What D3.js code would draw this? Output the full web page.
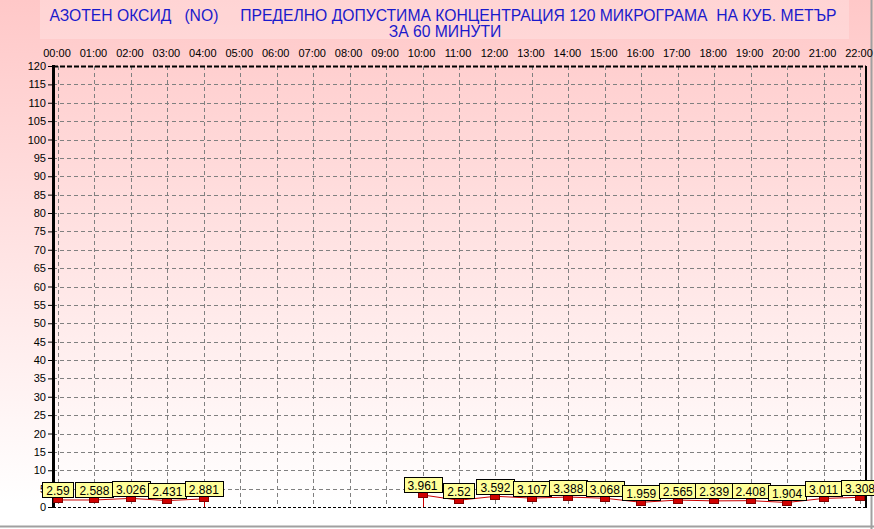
<!DOCTYPE html>
<html><head><meta charset="utf-8">
<script src="https://cdn.jsdelivr.net/npm/d3@7"></script>
<style>html,body{margin:0;padding:0;background:#fff;}svg{display:block;font-family:"Liberation Sans",Arial,sans-serif;}</style>
</head><body><div id="chart"></div>
<script>
const hours = ["00:00","01:00","02:00","03:00","04:00","05:00","06:00","07:00","08:00","09:00","10:00","11:00","12:00","13:00","14:00","15:00","16:00","17:00","18:00","19:00","20:00","21:00","22:00"];
const values = [2.59,2.588,3.026,2.431,2.881,null,null,null,null,null,3.961,2.52,3.592,3.107,3.388,3.068,1.959,2.565,2.339,2.408,1.904,3.011,3.308];
const yTicks = d3.range(0,121,5);
const titleLine1 = "АЗОТЕН ОКСИД   (NO)     ПРЕДЕЛНО ДОПУСТИМА КОНЦЕНТРАЦИЯ 120 МИКРОГРАМА  НА КУБ. МЕТЪР";
const titleLine2 = "ЗА 60 МИНУТИ";

const W=874,H=529;
const plot={left:53,right:866,top:66,bottom:507};
const svg=d3.select("#chart").append("svg").attr("width",W).attr("height",H);
const defs=svg.append("defs");
const g1=defs.append("linearGradient").attr("id","bg").attr("x1",0).attr("y1",0).attr("x2",0).attr("y2",1);
g1.append("stop").attr("offset","0%").attr("stop-color","#ffc8c8");
g1.append("stop").attr("offset","95%").attr("stop-color","#ffffff");
g1.append("stop").attr("offset","100%").attr("stop-color","#ffffff");
svg.append("rect").attr("width",W).attr("height",H).attr("fill","url(#bg)");
// outer grey border bottom/right
svg.append("line").attr("x1",0).attr("x2",W).attr("y1",526.5).attr("y2",526.5).attr("stroke","#a0a0a0").attr("stroke-width",2);
svg.append("line").attr("x1",871.5).attr("x2",871.5).attr("y1",0).attr("y2",H).attr("stroke","#a0a0a0").attr("stroke-width",2);
// title box
svg.append("rect").attr("x",40).attr("y",0).attr("width",809).attr("height",39).attr("fill","#ffffff").attr("opacity",0.22);

const x=d3.scaleLinear().domain([0,22]).range([58,860]);
const y=d3.scaleLinear().domain([0,120]).range([plot.bottom,plot.top]);

// title
svg.append("text").attr("x",443).attr("y",21).attr("text-anchor","middle").attr("fill","#1a1acc").attr("font-size",15.7).attr("xml:space","preserve").style("white-space","pre").text(titleLine1);
svg.append("text").attr("x",445).attr("y",37).attr("text-anchor","middle").attr("fill","#1a1acc").attr("font-size",15.7).text(titleLine2);

// grid
const grid=svg.append("g");
grid.selectAll("line.h").data(yTicks.filter(d=>d>0&&d<120)).join("line")
  .attr("x1",plot.left).attr("x2",plot.right).attr("y1",d=>Math.round(y(d))+0.5).attr("y2",d=>Math.round(y(d))+0.5)
  .attr("stroke","#808080").attr("stroke-dasharray","4,3");
grid.selectAll("line.v").data(hours).join("line")
  .attr("x1",(d,i)=>Math.round(x(i))+0.5).attr("x2",(d,i)=>Math.round(x(i))+0.5).attr("y1",plot.top).attr("y2",plot.bottom)
  .attr("stroke","#808080").attr("stroke-dasharray","4,3");

// frame
svg.append("line").attr("x1",plot.left).attr("x2",plot.right).attr("y1",plot.top+0.5).attr("y2",plot.top+0.5).attr("stroke","#000").attr("stroke-width",2).attr("stroke-dasharray","5,2");
svg.append("line").attr("x1",plot.left).attr("x2",plot.right).attr("y1",plot.bottom+0.5).attr("y2",plot.bottom+0.5).attr("stroke","#000").attr("stroke-dasharray","3,2");
svg.append("line").attr("x1",plot.right).attr("x2",plot.right).attr("y1",plot.top).attr("y2",plot.bottom+1).attr("stroke","#000").attr("stroke-width",2);

// y axis
const yAxis=d3.axisLeft(y).tickValues(yTicks).tickSize(5).tickPadding(2).tickFormat(d3.format("d"));
const ya=svg.append("g").attr("transform",`translate(${plot.left},0)`).call(yAxis);
ya.select(".domain").remove();
ya.selectAll("text").attr("font-size",11).attr("font-family","Liberation Sans, Arial, sans-serif").attr("fill","#000");
ya.selectAll("line").attr("stroke","#000");
svg.append("line").attr("x1",plot.left+0.5).attr("x2",plot.left+0.5).attr("y1",plot.top-1).attr("y2",plot.bottom+1).attr("stroke","#000").attr("stroke-width",3);

// x axis (top)
const xa=svg.append("g").attr("transform",`translate(0,${plot.top})`)
  .call(d3.axisTop(x).tickValues(d3.range(hours.length)).tickFormat(i=>hours[i]).tickSize(0).tickPadding(9));
xa.select(".domain").remove();
xa.selectAll("text").attr("font-size",11).attr("font-family","Liberation Sans, Arial, sans-serif").attr("fill","#000").attr("dx",-1.5);

// line
const pts=values.map((v,i)=>({i,v}));
const line=d3.line().defined(d=>d.v!==null).x(d=>x(d.i)).y(d=>y(d.v)+2.5);
svg.append("path").datum(pts).attr("d",line).attr("fill","none").attr("stroke","#cc0000").attr("stroke-width",1);
// drops at gap edges
const edges=pts.filter((d,k)=>d.v!==null && ((k+1<pts.length && pts[k+1].v===null) || (k>0 && pts[k-1].v===null)));
svg.selectAll("line.drop").data(edges).join("line")
  .attr("x1",d=>Math.round(x(d.i))+0.5).attr("x2",d=>Math.round(x(d.i))+0.5).attr("y1",d=>y(d.v)+2.5).attr("y2",plot.bottom)
  .attr("stroke","#cc0000");

const valid=pts.filter(d=>d.v!==null);
// markers
svg.selectAll("rect.mk").data(valid).join("rect")
  .attr("x",d=>Math.round(x(d.i))-4.5).attr("y",d=>Math.round(y(d.v))+0.5).attr("width",9).attr("height",5)
  .attr("fill","#d00000").attr("stroke","#800000").attr("stroke-width",1);

// labels
const lab=svg.selectAll("g.lab").data(valid).join("g");
lab.each(function(d){
  const g=d3.select(this);
  const t=g.append("text").attr("font-size",12).attr("fill","#000").attr("text-anchor","middle")
    .attr("x",x(d.i)).attr("y",Math.round(y(d.v))-2).text(String(d.v));
  const w=t.node().getComputedTextLength()+8;
  g.insert("rect","text").attr("x",Math.round(x(d.i)-w/2)+0.5).attr("y",Math.round(y(d.v))-14.5).attr("width",Math.round(w)).attr("height",15)
    .attr("fill","#ffff99").attr("stroke","#000");
});
</script></body></html>
